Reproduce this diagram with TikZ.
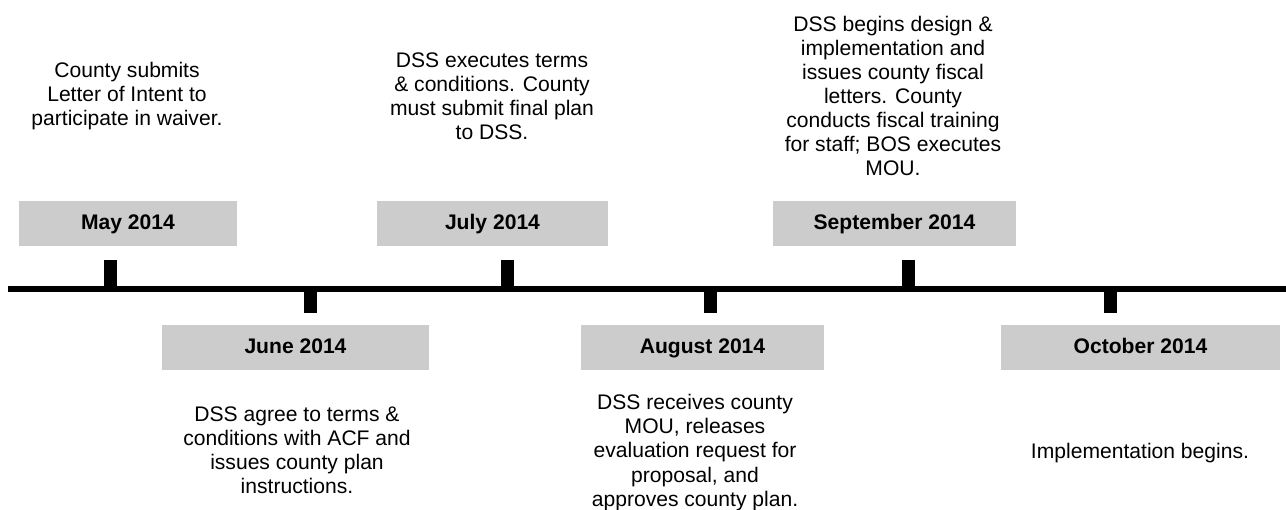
\documentclass[tikz,border=0pt]{standalone}
\usepackage{fontspec}
\setmainfont{Liberation Sans}
\usepackage{tikz}
\usetikzlibrary{positioning}
\definecolor{boxgray}{RGB}{204,204,204}

\begin{document}
\begin{tikzpicture}[
    month/.style={fill=boxgray,font=\fontsize{12}{13.7}\selectfont\bfseries,minimum height=0.9cm,inner sep=0pt,text height=1.7ex,text depth=0.3ex},
    event/.style={align=center,inner sep=0pt,font=\fontsize{12}{13.7}\selectfont}]
    \useasboundingbox (0,-4.42) rectangle (25.72,5.78);

    % Time axis
    \coordinate (start) at (0.16,0);
    \coordinate (stop) at (25.72,0);
    \draw[line width=0.12cm] (start) -- (stop);
    \foreach \x in {2.2,10.15,18.16} {
        \draw[line width=0.26cm] (\x,0) -- (\x,0.58);
    }
    \foreach \x in {6.2,14.2,22.2} {
        \draw[line width=0.26cm] (\x,0) -- (\x,-0.48);
    }

    % Months above the axis
    \node[month,minimum width=4.36cm] (may) at (2.56,1.31) {May 2014};
    \node[month,minimum width=4.62cm] (jul) at (9.85,1.31) {July 2014};
    \node[month,minimum width=4.86cm] (sep) at (17.89,1.31) {September 2014};

    % Months below the axis
    \node[month,minimum width=5.34cm] (jun) at (5.91,-1.17) {June 2014};
    \node[month,minimum width=4.86cm] (aug) at (14.05,-1.17) {August 2014};
    \node[month,minimum width=5.58cm] (oct) at (22.81,-1.17) {October 2014};

    % Events
    \node[event] (maytxt) at (2.54,3.86) {County submits\\Letter of Intent to\\participate in waiver.};
    \node[event] (jultxt) at (9.84,3.86) {DSS executes terms\\\& conditions. County\\must submit final plan\\to DSS.};
    \node[event] (septxt) at (17.86,3.86) {DSS begins design \&\\implementation and\\issues county fiscal\\letters. County\\conducts fiscal training\\for staff; BOS executes\\MOU.};
    \node[event] (juntxt) at (5.94,-3.22) {DSS agree to terms \&\\conditions with ACF and\\issues county plan\\instructions.};
    \node[event] (augtxt) at (13.9,-3.27) {DSS receives county\\MOU, releases\\evaluation request for\\proposal, and\\approves county plan.};
    \node[event] (octtxt) at (22.8,-3.28) {Implementation begins.};
\end{tikzpicture}
\end{document}
